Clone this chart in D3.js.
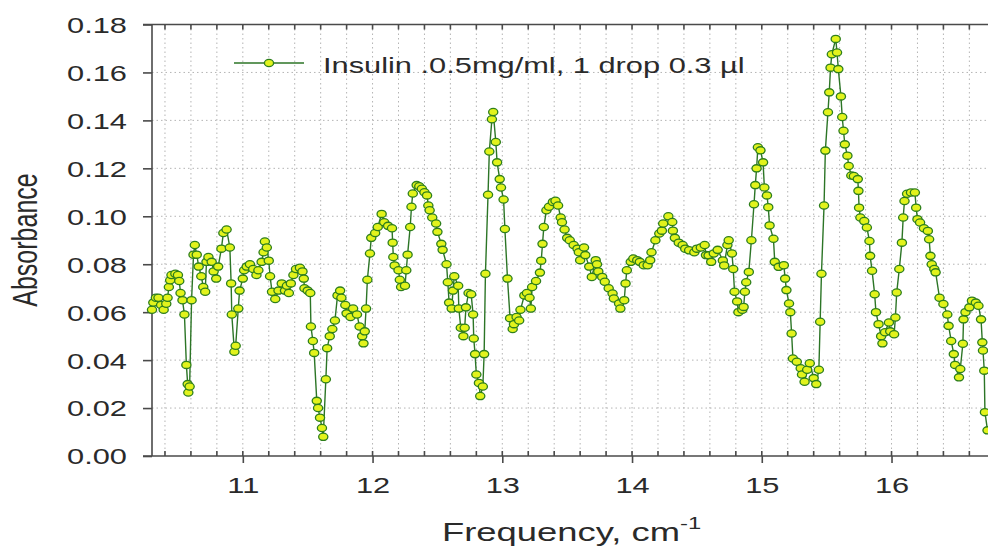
<!DOCTYPE html>
<html lang="en">
<head>
<meta charset="utf-8">
<title>Insulin absorbance</title>
<script src="https://d3js.org/d3.v7.min.js"></script>
<style>
  body { margin: 0; background: #fff; }
  svg { display: block; }
  text { font-family: "Liberation Sans", Arial, sans-serif; fill: #2a2a2a; }
  .grid line { stroke: #b4b4b4; stroke-width: 1; stroke-dasharray: 1.5,3; }
  .frame { stroke: #4a4a4a; stroke-width: 1.6; }
</style>
</head>
<body>
<div id="chart"></div>
<script>
// values
var freq = [
  10.30,10.31,10.33,10.35,10.37,10.39,10.41,10.42,10.43,10.44,10.45,10.48,10.50,10.51,10.52,10.535,10.55,10.565,10.575,10.58,10.59,
  10.605,10.62,10.63,10.645,10.66,10.68,10.695,10.71,10.72,10.735,10.76,10.775,10.795,10.81,10.835,10.85,10.875,10.90,10.91,10.915,
  10.935,10.945,10.965,10.975,11.00,11.01,11.03,11.055,11.08,11.105,11.12,11.145,11.16,11.17,11.185,11.20,11.21,11.225,11.25,11.275,
  11.30,11.325,11.34,11.355,11.37,11.39,11.41,11.44,11.46,11.47,11.475,11.50,11.52,11.525,11.54,11.55,11.57,11.58,11.595,11.61,11.62,
  11.64,11.65,11.67,11.69,11.71,11.73,11.75,11.76,11.79,11.80,11.83,11.85,11.88,11.90,11.92,11.93,11.94,11.95,11.96,11.98,11.99,
  12.02,12.04,12.07,12.09,12.12,12.15,12.155,12.16,12.17,12.20,12.21,12.22,12.25,12.26,12.27,12.29,12.30,12.31,12.34,12.36,12.38,
  12.40,12.42,12.43,12.44,12.46,12.49,12.50,12.53,12.54,12.57,12.58,12.59,12.61,12.62,12.63,12.66,12.665,12.68,12.70,12.71,12.72,
  12.74,12.76,12.775,12.78,12.79,12.80,12.82,12.83,12.85,12.86,12.87,12.89,12.90,12.92,12.93,12.95,12.96,12.98,12.99,13.01,13.02,
  13.04,13.06,13.08,13.09,13.11,13.13,13.14,13.17,13.19,13.21,13.22,13.23,13.26,13.29,13.30,13.31,13.32,13.34,13.36,13.39,13.41,
  13.43,13.45,13.46,13.48,13.50,13.52,13.55,13.58,13.59,13.60,13.63,13.64,13.67,13.69,13.72,13.73,13.74,13.77,13.79,13.82,13.85,
  13.86,13.90,13.91,13.94,13.95,13.96,13.99,14.01,14.04,14.06,14.09,14.12,14.14,14.15,14.18,14.21,14.23,14.24,14.28,14.31,14.315,
  14.33,14.36,14.39,14.41,14.44,14.48,14.50,14.53,14.56,14.57,14.59,14.61,14.63,14.66,14.70,14.71,14.735,14.745,14.77,14.78,14.79,
  14.81,14.82,14.85,14.86,14.87,14.88,14.90,14.92,14.94,14.95,14.96,14.97,14.99,15.01,15.02,15.04,15.05,15.06,15.09,15.10,15.13,
  15.17,15.18,15.19,15.21,15.22,15.23,15.24,15.27,15.30,15.31,15.33,15.35,15.37,15.40,15.42,15.44,15.45,15.46,15.48,15.49,15.51,
  15.52,15.53,15.54,15.57,15.58,15.59,15.61,15.62,15.63,15.64,15.66,15.67,15.69,15.71,15.74,15.745,15.75,15.76,15.79,15.81,15.83,
  15.835,15.85,15.87,15.88,15.90,15.92,15.93,15.95,15.98,15.99,16.02,16.03,16.04,16.06,16.08,16.09,16.10,16.12,16.15,16.18,16.19,
  16.20,16.22,16.25,16.28,16.29,16.30,16.31,16.33,16.34,16.37,16.40,16.43,16.44,16.46,16.48,16.49,16.52,16.53,16.55,16.555,16.57,
  16.60,16.62,16.65,16.67,16.69,16.70,16.705,16.715,16.72,16.74
];
var absorb = [
  0.061,0.064,0.066,0.066,0.063,0.061,0.0635,0.066,0.0705,0.0733,0.0755,0.076,0.0755,0.073,0.068,0.065,0.059,0.038,0.030,0.0265,0.029,
  0.065,0.084,0.088,0.084,0.079,0.075,0.0705,0.0685,0.081,0.083,0.081,0.077,0.074,0.079,0.0865,0.093,0.0945,0.087,0.072,0.059,
  0.0435,0.046,0.0615,0.069,0.074,0.0775,0.079,0.080,0.078,0.0755,0.0775,0.081,0.085,0.0895,0.087,0.0815,0.075,0.0685,0.0655,0.069,
  0.072,0.069,0.071,0.068,0.072,0.0755,0.078,0.0785,0.077,0.074,0.070,0.069,0.068,0.054,0.048,0.043,0.023,0.020,0.016,0.0117,0.008,
  0.032,0.045,0.050,0.053,0.0565,0.067,0.069,0.066,0.063,0.0595,0.058,0.0615,0.059,0.054,0.050,0.047,0.052,0.0615,0.0735,0.0845,0.091,
  0.093,0.0955,0.101,0.0975,0.096,0.095,0.089,0.083,0.0795,0.0775,0.0735,0.0705,0.071,0.0775,0.084,0.0955,0.104,0.1095,0.113,0.1125,0.1115,
  0.110,0.1087,0.1045,0.1025,0.0995,0.097,0.0935,0.0885,0.086,0.080,0.0725,0.064,0.0615,0.069,0.075,0.071,0.0615,0.0535,0.050,0.0535,0.062,
  0.068,0.0675,0.059,0.049,0.0425,0.034,0.0305,0.025,0.029,0.0425,0.076,0.109,0.127,0.1405,0.1435,0.131,0.1225,0.1155,0.112,0.107,0.0947,
  0.074,0.0575,0.053,0.055,0.058,0.0565,0.061,0.067,0.068,0.066,0.0615,0.0705,0.073,0.0765,0.0815,0.0885,0.0955,0.1025,0.104,0.106,0.1065,
  0.1045,0.0995,0.0975,0.0945,0.091,0.090,0.088,0.0865,0.085,0.0817,0.087,0.0838,0.079,0.0747,0.0817,0.080,0.077,0.0747,0.0727,0.070,0.0678,
  0.0657,0.0636,0.0615,0.065,0.072,0.0775,0.081,0.0824,0.0817,0.081,0.0796,0.0796,0.0817,0.085,0.090,0.0928,0.094,0.097,0.100,0.0976,0.094,
  0.091,0.089,0.088,0.0865,0.0858,0.085,0.0865,0.087,0.088,0.0838,0.0837,0.081,0.0845,0.086,0.0816,0.0795,0.088,0.090,0.0845,0.078,0.0685,
  0.0645,0.060,0.061,0.0622,0.0685,0.0725,0.0768,0.090,0.105,0.113,0.120,0.1288,0.1275,0.1225,0.112,0.1087,0.1038,0.0962,0.0906,0.081,0.0789,
  0.0796,0.074,0.0692,0.0636,0.060,0.0511,0.0407,0.0393,0.0366,0.034,0.031,0.036,0.0387,0.0325,0.030,0.036,0.056,0.076,0.1045,0.1274,0.1434,
  0.1517,0.162,0.1676,0.174,0.1683,0.1614,0.150,0.1414,0.1357,0.130,0.1253,0.121,0.117,0.1168,0.1155,0.1106,0.1036,0.0995,0.098,0.0953,0.0897,
  0.0835,0.0773,0.0675,0.060,0.055,0.050,0.047,0.0516,0.0557,0.052,0.0508,0.0578,0.0682,0.078,0.089,0.0995,0.1064,0.1094,0.1099,0.1099,0.1036,
  0.0988,0.0974,0.095,0.0939,0.0904,0.0835,0.080,0.078,0.0766,0.066,0.0634,0.059,0.0543,0.048,0.0425,0.038,0.0328,0.0363,0.0468,0.057,0.060,
  0.062,0.0648,0.064,0.0627,0.057,0.0474,0.044,0.0356,0.0183,0.0107
];
var yTicks = [0, 0.02, 0.04, 0.06, 0.08, 0.10, 0.12, 0.14, 0.16, 0.18];
var xMajor = [11, 12, 13, 14, 15, 16];
var xMinor = d3.range(52, 84).map(function(i) { return i / 5; }); // every 0.2
var seriesName = "Insulin .0.5mg/ml, 1 drop 0.3 \u00b5l";

(function() {
  var W = 988, H = 548;
  var plotLeft = 152, plotTop = 24.5, plotBottom = 456;
  var sx = 1.4; // text in the picture is stretched sideways
  var font = "'Liberation Sans', Arial, sans-serif";
  var markFill = "#e2f31c", markStroke = "#2e7f1c", lineCol = "#2c7526";

  var x = d3.scaleLinear().domain([10.3, 16.75]).range([plotLeft, plotLeft + 6.45 * 129.74]);
  var y = d3.scaleLinear().domain([0, 0.18]).range([plotBottom, plotTop]);

  var svg = d3.select("#chart").append("svg").attr("width", W).attr("height", H);

  // grid
  var grid = svg.append("g").attr("class", "grid");
  grid.selectAll("line.v").data(xMinor).enter().append("line")
    .attr("x1", d => x(d)).attr("x2", d => x(d)).attr("y1", plotTop).attr("y2", plotBottom);
  grid.selectAll("line.h").data(yTicks.slice(1, -1)).enter().append("line")
    .attr("x1", plotLeft).attr("x2", W).attr("y1", d => y(d)).attr("y2", d => y(d));

  // y axis
  var gy = svg.append("g").attr("transform", "translate(" + plotLeft + ",0)")
    .call(d3.axisLeft(y).tickValues(yTicks).tickSize(9).tickFormat(d3.format(".2f")));
  gy.select(".domain").remove();
  gy.selectAll(".tick line").attr("class", "frame");
  gy.selectAll(".tick text")
    .attr("x", -25 / sx).attr("dy", "0.36em")
    .attr("transform", "scale(" + sx + ",1)")
    .style("font-size", "22px").style("font-family", font).attr("fill", "#2a2a2a");

  // bottom axis: major ticks out, minor ticks in
  var gx = svg.append("g").attr("transform", "translate(0," + plotBottom + ")")
    .call(d3.axisBottom(x).tickValues(xMajor).tickSize(7).tickFormat(d3.format("d")));
  gx.select(".domain").remove();
  gx.selectAll(".tick line").attr("class", "frame");
  gx.selectAll(".tick text")
    .attr("y", 37).attr("dy", 0).attr("x", 0)
    .attr("transform", "scale(" + sx + ",1)")
    .style("font-size", "22px").style("font-family", font).attr("fill", "#2a2a2a");

  svg.append("g").selectAll("line").data(xMinor).enter().append("line").attr("class", "frame")
    .attr("x1", d => x(d)).attr("x2", d => x(d)).attr("y1", plotBottom).attr("y2", plotBottom - 5);
  svg.append("g").selectAll("line").data(xMinor).enter().append("line").attr("class", "frame")
    .attr("x1", d => x(d)).attr("x2", d => x(d)).attr("y1", plotTop).attr("y2", plotTop + 5);

  // frame lines
  svg.append("line").attr("class", "frame").attr("x1", plotLeft).attr("x2", plotLeft).attr("y1", plotTop).attr("y2", plotBottom);
  svg.append("line").attr("class", "frame").attr("x1", plotLeft - 9).attr("x2", W).attr("y1", plotBottom).attr("y2", plotBottom);
  svg.append("line").attr("class", "frame").attr("x1", plotLeft - 9).attr("x2", W).attr("y1", plotTop).attr("y2", plotTop);

  // series
  var pts = freq.map(function(f, i) { return [f, absorb[i]]; });
  svg.append("path").datum(pts)
    .attr("fill", "none").attr("stroke", lineCol).attr("stroke-width", 1.4)
    .attr("d", d3.line().x(d => x(d[0])).y(d => y(d[1])));
  svg.append("g").selectAll("ellipse").data(pts).enter().append("ellipse")
    .attr("cx", d => x(d[0])).attr("cy", d => y(d[1]))
    .attr("rx", 4.6).attr("ry", 3.6)
    .attr("fill", markFill).attr("stroke", markStroke).attr("stroke-width", 1.3);

  // legend
  svg.append("line").attr("x1", 234).attr("x2", 304).attr("y1", 63).attr("y2", 63)
    .attr("stroke", lineCol).attr("stroke-width", 1.4);
  svg.append("ellipse").attr("cx", 269).attr("cy", 63).attr("rx", 4.6).attr("ry", 3.6)
    .attr("fill", markFill).attr("stroke", markStroke).attr("stroke-width", 1.3);
  svg.append("text").attr("transform", "translate(323,73) scale(" + sx + ",1)")
    .style("font-size", "22px").text(seriesName);

  // axis titles
  var xt = svg.append("text").attr("transform", "translate(442,541) scale(" + sx + ",1)")
    .style("font-size", "26px");
  xt.append("tspan").text("Frequency, cm");
  xt.append("tspan").attr("dy", -12).style("font-size", "17px").text("-1");

  svg.append("text").attr("transform", "translate(37,240) scale(" + sx + ",1) rotate(-90)")
    .attr("text-anchor", "middle").style("font-size", "25px").text("Absorbance");
})();
</script>
</body>
</html>
